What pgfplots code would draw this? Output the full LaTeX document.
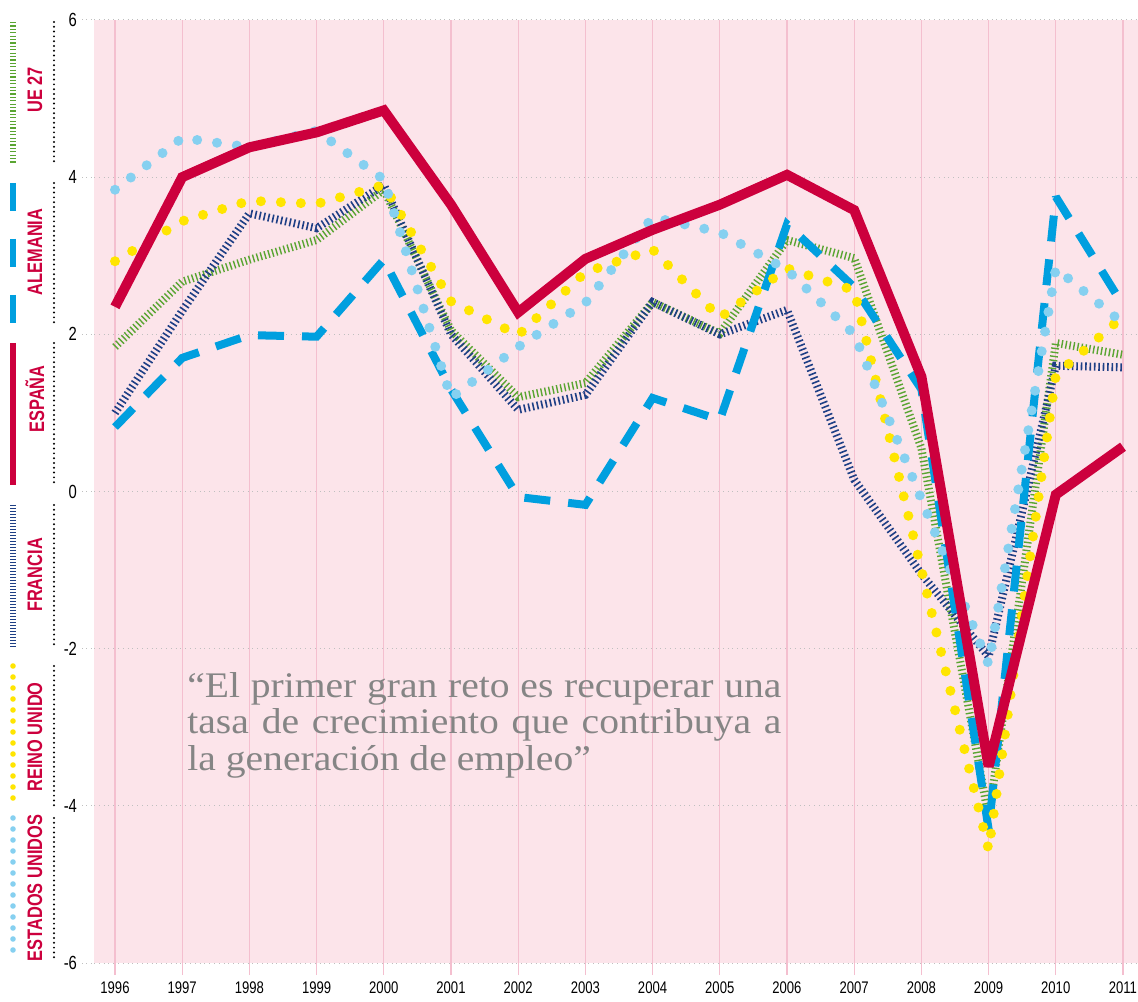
\documentclass[border=0pt]{standalone}
\usepackage{fontspec}
\setmainfont{Liberation Sans}
\newfontfamily\condfont{Liberation Sans}[FakeStretch=0.78]
\newfontfamily\quotefont{Liberation Serif}[FakeStretch=1.1]
\usepackage{pgfplots}
\pgfplotsset{compat=1.18}

\definecolor{chartBg}{HTML}{FCE4EA}
\definecolor{gridPink}{HTML}{F4BFCF}
\definecolor{esRed}{HTML}{CC003D}
\definecolor{deBlue}{HTML}{009FDF}
\definecolor{euGreen}{HTML}{5AA532}
\definecolor{frNavy}{HTML}{1E3F85}
\definecolor{ukYellow}{HTML}{FFE500}
\definecolor{usBlue}{HTML}{86D0F0}
\definecolor{quoteGray}{HTML}{858585}

\begin{document}
\begin{tikzpicture}
\begin{axis}[
  at={(47pt,19pt)}, anchor=south west,
  scale only axis, width=522pt, height=471.5pt,
  xmin=1995.6875, xmax=2011.223, ymin=-6, ymax=6,
  xtick={1996,...,2011}, ytick={-6,-4,...,6},
  axis background/.style={fill=chartBg},
  axis line style={draw=none},
  xmajorgrids, ymajorgrids,
  x grid style={gridPink, line width=0.6pt},
  y grid style={black!25, dotted, line width=0.5pt},
  tick pos=left, tick align=outside,
  major tick length=6pt,
  xtick style={gridPink, line width=0.6pt},
  ytick style={black!25, dotted, line width=0.5pt},
  xticklabel style={/pgf/number format/1000 sep={}, font=\condfont\fontsize{8.4}{9}\selectfont},
  yticklabel style={font=\condfont\fontsize{9.5}{10}\selectfont, xshift=1pt},
  /pgf/number format/assume math mode=true,
  every axis plot/.append style={line join=miter, miter limit=3},
]
% UE 27
\addplot[euGreen, line width=4pt, dash pattern=on 0.7pt off 1.3pt] coordinates {
  (1996,1.84) (1997,2.67) (1998,2.95) (1999,3.2) (2000,3.84) (2001,2.05) (2002,1.2) (2003,1.38)
  (2004,2.41) (2005,2.01) (2006,3.2) (2007,2.97) (2008,0.55) (2009,-4.15) (2010,1.89) (2011,1.74)
};
% Francia
\addplot[frNavy, line width=4pt, dash pattern=on 0.8pt off 1.4pt] coordinates {
  (1996,1.0) (1997,2.3) (1998,3.54) (1999,3.35) (2000,3.9) (2001,2.0) (2002,1.04) (2003,1.23)
  (2004,2.41) (2005,2.0) (2006,2.31) (2007,0.15) (2008,-1.05) (2009,-2.1) (2010,1.6) (2011,1.58)
};
% Alemania
\addplot[deBlue, line width=4pt, dash pattern=on 13pt off 9pt] coordinates {
  (1996,0.82) (1997,1.7) (1998,1.99) (1999,1.97) (2000,2.95) (2001,1.3) (2002,-0.07) (2003,-0.17)
  (2004,1.19) (2005,0.91) (2006,3.4) (2007,2.6) (2008,1.3) (2009,-4.3) (2010,3.75) (2011,2.37)
};
% Reino Unido
\addplot[ukYellow, line width=5pt, line cap=round, dash pattern=on 0pt off 10pt] coordinates {
  (1996,2.93) (1997,3.44) (1998,3.7) (1999,3.66) (2000,3.9) (2001,2.42) (2002,1.99) (2003,2.79)
  (2004,3.08) (2005,2.21) (2006,2.84) (2007,2.56) (2008,-1.0) (2009,-4.56) (2010,1.48) (2011,2.23)
};
% Estados Unidos
\addplot[usBlue, line width=5pt, line cap=round, dash pattern=on 0pt off 10pt] coordinates {
  (1996,3.84) (1997,4.5) (1998,4.38) (1999,4.59) (2000,3.97) (2001,1.19) (2002,1.84) (2003,2.4)
  (2004,3.49) (2005,3.3) (2006,2.82) (2007,2.0) (2008,-0.1) (2009,-2.2) (2010,2.84) (2011,2.14)
};
% España
\addplot[esRed, line width=5pt] coordinates {
  (1996,2.35) (1997,4.0) (1998,4.38) (1999,4.57) (2000,4.85) (2001,3.65) (2002,2.28) (2003,2.96)
  (2004,3.33) (2005,3.65) (2006,4.03) (2007,3.58) (2008,1.46) (2009,-3.5) (2010,-0.04) (2011,0.57)
};
\end{axis}

% everything outside the axis is placed in image pixels (0.5pt each, y down)
\begin{scope}[x=0.5pt, y=-0.5pt, shift={(0pt,500.5pt)}]
% legend samples
\draw[euGreen, line width=3pt, dash pattern=on 0.6pt off 1.1pt] (13,22) -- (13,163);
\draw[deBlue, line width=3pt, dash pattern=on 14pt off 14pt] (13,183) -- (13,324);
\draw[esRed, line width=3pt] (13,343) -- (13,485);
\draw[frNavy, line width=3pt, dash pattern=on 0.6pt off 0.9pt] (13,505) -- (13,647);
\draw[ukYellow, line width=2.8pt, line cap=round, dash pattern=on 0pt off 5.5pt] (13,666) -- (13,808);
\draw[usBlue, line width=2.8pt, line cap=round, dash pattern=on 0pt off 5.5pt] (13,818) -- (13,960);
% dotted separators
\foreach \a/\b in {22/163, 183/324, 343/485, 505/647, 666/808, 818/960}
  \draw[black, line width=1.1pt, line cap=round, dash pattern=on 0pt off 2.4pt] (54,\a) -- (54,\b);
% legend labels
\foreach \y/\t in {90/UE 27, 252/ALEMANIA, 399/ESPAÑA, 575/FRANCIA, 737/REINO UNIDO, 888/ESTADOS UNIDOS}
  \node[rotate=90, text=esRed, inner sep=0, font=\condfont\bfseries\fontsize{10.5}{11}\selectfont] at (35,\y) {\t};
% quote
\node[anchor=north west, inner sep=0, text width=297pt, align=justify, text=quoteGray,
      font=\quotefont\fontsize{18}{18.2}\selectfont] at (187,672)
  {“El primer gran reto es recuperar una\linebreak tasa de crecimiento que contribuya a\linebreak la generación de empleo”};
\end{scope}
% fix the page to the reference frame
\pgfresetboundingbox
\path[use as bounding box] (0pt,0pt) rectangle (569pt,500.5pt);
\end{tikzpicture}
\end{document}
